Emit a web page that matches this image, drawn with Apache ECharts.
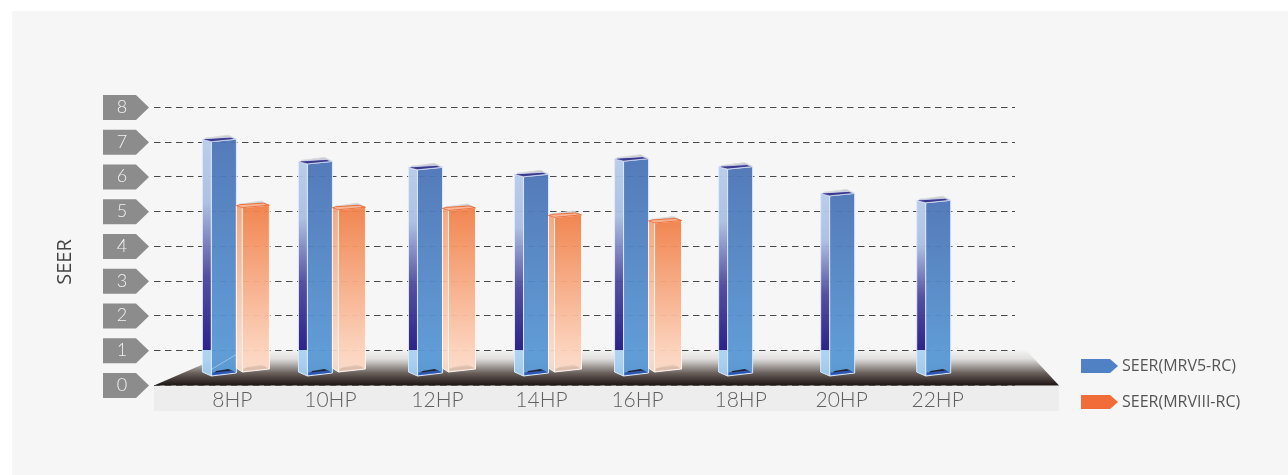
<!DOCTYPE html>
<html>
<head>
<meta charset="utf-8">
<style>
html, body { margin: 0; padding: 0; background: #fff; }
#chart { width: 1288px; height: 475px; }
</style>
<script src="https://cdn.jsdelivr.net/npm/echarts@6/dist/echarts.min.js"></script>
</head>
<body>
<div id="chart"></div>
<script>
var categories = ["8HP", "10HP", "12HP", "14HP", "16HP", "18HP", "20HP", "22HP"];
var seerMrv5 = [7.06, 6.42, 6.25, 6.05, 6.5, 6.27, 5.5, 5.3];
var seerMrv8 = [5.16, 5.1, 5.08, 4.88, 4.72];
var yTicks = [0, 1, 2, 3, 4, 5, 6, 7, 8];

// the groups in the picture are not evenly spaced
var barNudge = [-8, -12.7, -3.4, 1.9, 1.2, 4.5, 5.8, 1.1];
var labelNudge = [0, -2.7, 3.6, 6.9, 2.2, 4.5, 4.8, 0];

var FONT = "Lato, 'Open Sans', sans-serif";

function grad(stops) {
	return new echarts.graphic.LinearGradient(0, 0, 0, 1, stops.map(function(s) {
		return { offset: s[0], color: s[1] };
	}));
}

function poly(points, fill, stroke, width) {
	return {
		type: "polygon",
		shape: { points: points },
		style: { fill: fill, stroke: stroke || null, lineWidth: width || 0 }
	};
}

function barShape(params, api, o) {
	var i = api.value(0),
		top = api.coord([i, api.value(1)]),
		base = api.coord([i, 0]),
		x = top[0] - 22 + barNudge[i] + o.dx,
		T = top[1],
		B = base[1] - 9 - o.lift,
		xm = x + o.side,
		xr = xm + o.front,
		floorEdge = Math.min(0.98, (base[1] - 35 - T) / (B - T)),
		line = o.line;

	return {
		type: "group",
		children: [
			// rim behind the top face
			poly([[x + 3, T - 1.5], [xr - 8, T - 4.5], [xr - 1, T - 1], [xr - 6, T - 1.5]], "#c9c9c9", "#dcdcdc", 1),
			// side face
			poly([[x, T], [xm, T + 2], [xm, B], [x, B - 4]], grad(o.sideStops(floorEdge)), line, 1),
			// front face
			poly([[xm, T + 2], [xr, T - 0.5], [xr, B - 3], [xm, B]], grad(o.frontStops), line, 1),
			// top face
			poly([[x, T], [xm, T + 2], [xr, T - 0.5], [xr - 6, T - 2.5], [x + 3, T - 1]], o.topFill, o.topLine, 0.8),
			// floor of the bar
			poly([[xm + 1, B - 1], [xr - 1, B - 3.5], [xr - 4, B - 5.5], [xm + 1, B - 3.5]], o.stripFill, null, 0),
			poly([[xm + 3, B - 3.5], [xr - 4, B - 5.5], [xr - 8, B - 7], [xm + 5, B - 5]], o.baseFill, null, 0)
		]
	};
}

var blueBar = {
	dx: 0, side: 9, front: 25, lift: 0,
	line: "rgba(222,234,255,0.95)",
	topFill: "#3a3a8e",
	topLine: "#d8e0f2",
	baseFill: "#1f2338",
	stripFill: "#2f55b4",
	frontStops: [[0, "rgba(76,116,182,0.95)"], [1, "rgba(90,156,216,0.95)"]],
	sideStops: function(edge) {
		return [
			[0, "rgba(182,204,234,0.95)"],
			[edge * 0.3, "rgba(170,190,225,0.95)"],
			[edge * 0.65, "rgba(75,70,155,0.95)"],
			[edge, "rgba(40,30,135,0.98)"],
			[edge, "rgba(172,210,242,0.95)"],
			[1, "rgba(160,205,240,0.95)"]
		];
	}
};

var orangeBar = {
	dx: 34, side: 6, front: 27, lift: 4,
	line: "rgba(255,246,240,0.95)",
	topFill: "#f6b696",
	topLine: "#ee5a20",
	baseFill: "rgba(90,70,60,0.12)",
	stripFill: "rgba(90,70,60,0.18)",
	frontStops: [[0, "rgba(241,128,72,0.95)"], [1, "rgba(254,222,204,0.95)"]],
	sideStops: function() {
		return [[0, "rgba(244,160,116,0.9)"], [1, "rgba(253,224,208,0.9)"]];
	}
};

function tagShape(params, api) {
	var p = api.coord([0, api.value(0)]),
		x = p[0] - 51,
		y = p[1] + 0.5;
	return poly([[x, y - 12.5], [x + 33, y - 12.5], [x + 46, y], [x + 33, y + 12.5], [x, y + 12.5]], "#8c8c8c");
}

var labelRich = {};
categories.forEach(function(c, i) {
	var n = labelNudge[i] * 2;
	labelRich["n" + i] = {
		fontFamily: FONT, fontWeight: 300, fontSize: 21, color: "#5f5f5f",
		padding: n >= 0 ? [0, 0, 0, n] : [0, -n, 0, 0]
	};
});

var chart = echarts.init(document.getElementById("chart"), null, { renderer: "canvas" });

chart.setOption({
	animation: false,
	backgroundColor: "#ffffff",
	legend: {
		orient: "vertical",
		left: 1081,
		top: 358,
		padding: 0,
		itemWidth: 37,
		itemHeight: 14,
		itemGap: 20,
		data: [
			{ name: "SEER(MRV5-RC)", icon: "path://M0 0H29L37 7L29 14H0Z" },
			{ name: "SEER(MRVIII-RC)", icon: "path://M0 0H29L37 7L29 14H0Z" }
		],
		textStyle: { fontFamily: "'Open Sans', sans-serif", fontSize: 16, color: "#555", padding: [0, 0, 0, -1] }
	},
	grid: [
		{ left: 154, top: 107, width: 861, height: 278 },
		{ left: 182, top: 107, width: 806, height: 278 }
	],
	xAxis: [
		{ type: "value", gridIndex: 0, min: 0, max: 1, show: false },
		{
			type: "category",
			gridIndex: 1,
			data: categories,
			axisLine: { show: false },
			axisTick: { show: false },
			axisLabel: {
				margin: 5,
				interval: 0,
				formatter: function(v, i) { return "{n" + i + "|" + v + "}"; },
				rich: labelRich
			}
		}
	],
	yAxis: [
		{
			type: "value",
			gridIndex: 0,
			min: 0,
			max: 8,
			interval: 1,
			name: "SEER",
			nameLocation: "middle",
			nameGap: 79,
			nameRotate: 90,
			nameTextStyle: { fontFamily: "'Open Sans', sans-serif", fontSize: 20, color: "#444", padding: [0, 32, 0, 0] },
			axisLine: { show: false },
			axisTick: { show: false },
			axisLabel: {
				margin: 32,
				align: "center",
				fontFamily: FONT,
				fontWeight: 300,
				fontSize: 18,
				color: "#f2f2f2"
			},
			splitLine: { lineStyle: { color: "#4a4a4a", width: 1, type: [6.5, 4.5] } }
		},
		{ type: "value", gridIndex: 1, min: 0, max: 8, interval: 1, show: false, splitLine: { show: false } }
	],
	graphic: [
		{ type: "rect", z: -10, shape: { x: 12, y: 11, width: 1276, height: 464 }, style: { fill: "#f6f6f6" } },
		{ type: "rect", z: -9, shape: { x: 154, y: 386, width: 905, height: 25 }, style: { fill: "#ededee" } },
		{
			type: "polygon",
			z: -9,
			shape: { points: [[154, 385.5], [236, 350], [1026, 350], [1059, 385.5]] },
			style: {
				fill: new echarts.graphic.LinearGradient(0, 0, 0, 1, [
					{ offset: 0, color: "#f4f4f4" },
					{ offset: 0.25, color: "#e0dfde" },
					{ offset: 0.4, color: "#b5b1ae" },
					{ offset: 0.65, color: "#6a605c" },
					{ offset: 1, color: "#1c1412" }
				])
			}
		},
		{
			type: "line",
			z: 20,
			shape: { x1: 212, y1: 369, x2: 237, y2: 354 },
			style: { stroke: "rgba(225,238,255,0.45)", lineWidth: 1 }
		}
	],
	series: [
		{
			name: "tags",
			type: "custom",
			z: -1,
			xAxisIndex: 0,
			yAxisIndex: 0,
			silent: true,
			data: yTicks.map(function(v) { return [v]; }),
			encode: { y: 0 },
			renderItem: tagShape
		},
		{
			name: "SEER(MRV5-RC)",
			type: "custom",
			xAxisIndex: 1,
			yAxisIndex: 1,
			clip: false,
			itemStyle: { color: "#4f81c4" },
			data: seerMrv5.map(function(v, i) { return [i, v]; }),
			encode: { x: 0, y: 1 },
			renderItem: function(params, api) { return barShape(params, api, blueBar); }
		},
		{
			name: "SEER(MRVIII-RC)",
			type: "custom",
			xAxisIndex: 1,
			yAxisIndex: 1,
			clip: false,
			itemStyle: { color: "#f06c38" },
			data: seerMrv8.map(function(v, i) { return [i, v]; }),
			encode: { x: 0, y: 1 },
			renderItem: function(params, api) { return barShape(params, api, orangeBar); }
		}
	]
});
</script>
</body>
</html>
